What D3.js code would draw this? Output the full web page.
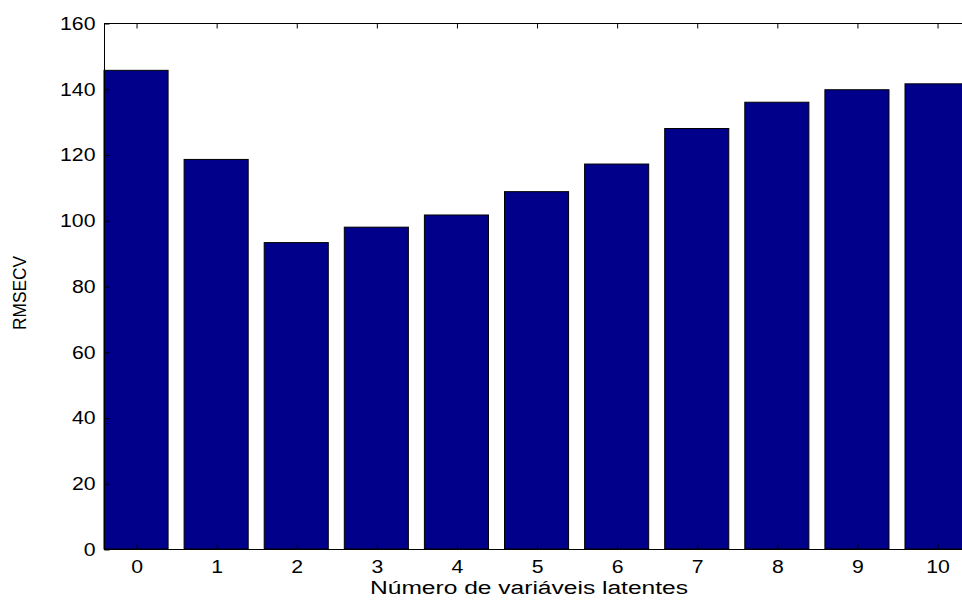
<!DOCTYPE html>
<html><head><meta charset="utf-8">
<script src="https://cdn.jsdelivr.net/npm/d3@7"></script>
<style>body{margin:0;background:#fff}svg{display:block}text{font-family:"Liberation Sans",Arial,sans-serif}</style>
</head><body>
<script>
const categories = [0,1,2,3,4,5,6,7,8,9,10];
const rmsecv = [145.6,118.5,93.2,97.9,101.6,108.7,117.1,127.9,135.9,139.7,141.5];
const yTicks = [0,20,40,60,80,100,120,140,160];
const xLabel = "Número de variáveis latentes";
const yLabel = "RMSECV";

const W=962,H=600;
const svg=d3.select("body").append("svg").attr("width",W).attr("height",H);
const mLeft=104, mTop=23, mBottom=549, pxPerUnit=80.1;
const x=d3.scaleLinear().domain([-0.4,10.4]).range([mLeft,mLeft+10.8*pxPerUnit]);
const y=d3.scaleLinear().domain([0,160]).range([mBottom,mTop]);
const bw=0.8;

svg.append("g").selectAll("rect").data(categories).join("rect")
  .attr("x",(d)=>x(d-bw/2)).attr("width",(d)=>x(d+bw/2)-x(d-bw/2))
  .attr("y",(d,i)=>y(rmsecv[i])).attr("height",(d,i)=>y(0)-y(rmsecv[i]))
  .attr("fill","#00008b").attr("stroke","#000").attr("stroke-width",1);

const xr=x.range();
svg.append("rect").attr("x",xr[0]+0.5).attr("y",mTop+0.5).attr("width",xr[1]-xr[0]).attr("height",mBottom-mTop)
  .attr("fill","none").attr("stroke","#000").attr("stroke-width",1);

function widen(sel,f){sel.each(function(){const w=this.getComputedTextLength();d3.select(this).attr("textLength",w*f).attr("lengthAdjust","spacingAndGlyphs");});}

const ya=svg.append("g").attr("transform",`translate(${mLeft+0.5},0.5)`)
  .call(d3.axisLeft(y).tickValues(yTicks).tickSizeInner(-5).tickSizeOuter(0).tickPadding(9));
ya.select(".domain").remove();
ya.selectAll("text").attr("font-size","18px").attr("font-family","Liberation Sans, Arial, sans-serif").attr("fill","#000").call(widen,1.18);

const xa=svg.append("g").attr("transform",`translate(0.5,${mBottom+0.5})`)
  .call(d3.axisBottom(x).tickValues(categories).tickFormat(d3.format("d")).tickSizeInner(-5).tickSizeOuter(0).tickPadding(11));
xa.select(".domain").remove();
xa.selectAll("text").attr("font-size","18px").attr("font-family","Liberation Sans, Arial, sans-serif").attr("fill","#000").call(widen,1.18);

const ta=svg.append("g").attr("transform",`translate(0.5,${mTop+0.5})`)
  .call(d3.axisTop(x).tickValues(categories).tickFormat("").tickSizeInner(-5).tickSizeOuter(0));
ta.select(".domain").remove();

svg.append("text").attr("x",529).attr("y",594).attr("text-anchor","middle")
  .attr("font-size","18px").attr("textLength",318).attr("lengthAdjust","spacingAndGlyphs").text(xLabel);
svg.append("text").attr("transform","translate(26,293) rotate(-90)").attr("text-anchor","middle")
  .attr("font-size","18px").attr("textLength",74).attr("lengthAdjust","spacingAndGlyphs").text(yLabel);
</script>
</body></html>
